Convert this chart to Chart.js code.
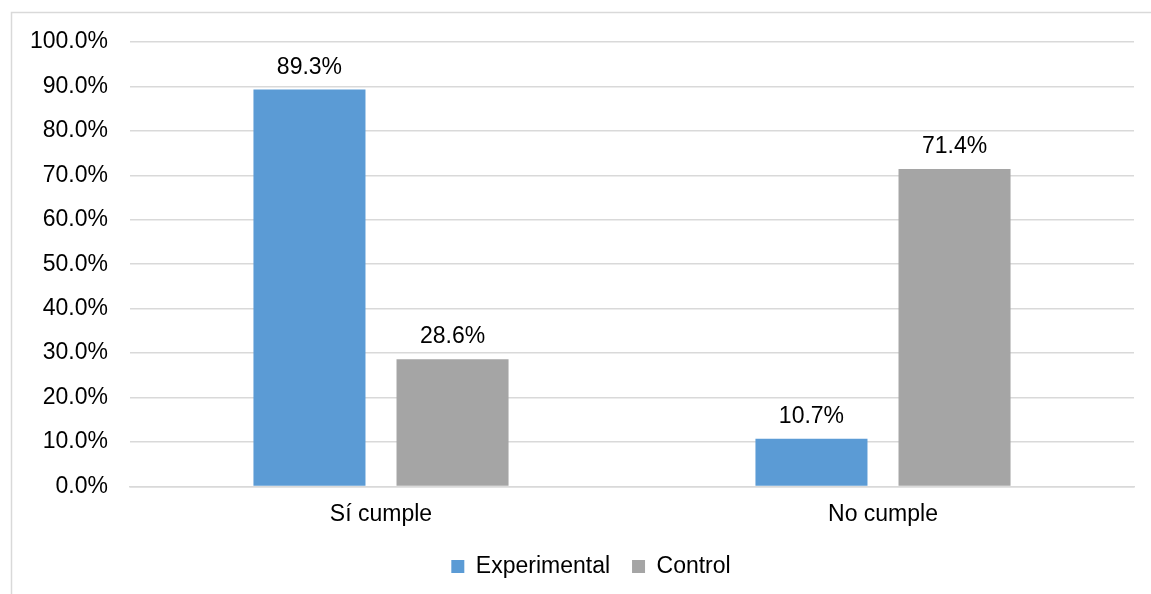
<!DOCTYPE html>
<html>
<head>
<meta charset="utf-8">
<script src="https://cdn.jsdelivr.net/npm/chart.js@4/dist/chart.umd.min.js"></script>
<style>
    html, body { margin: 0; padding: 0; background: #fff; overflow: hidden; }
    #wrap { position: relative; width: 1151px; height: 594px; }
</style>
</head>
<body>
<div id="wrap"><canvas id="chart"></canvas></div>
<script>
// Data
const categories = ['Sí cumple', 'No cumple'];
const experimentalValues = [89.3, 10.7];
const controlValues = [28.6, 71.4];
const seriesNames = ['Experimental', 'Control'];

// Styles
const fontFamily = "'Liberation Sans', Arial, sans-serif";
const fontSize = 23;
const gridColor = '#d9d9d9';
const colors = {
    experimental: '#5b9bd5',
    control: '#a5a5a5'
};

// Outer frame of the chart (only top and left edges are visible)
const framePlugin = {
    id: 'frame',
    beforeDraw(chart) {
        const ctx = chart.ctx;
        ctx.save();
        ctx.strokeStyle = gridColor;
        ctx.lineWidth = 1.5;
        ctx.beginPath();
        ctx.moveTo(11.5, chart.height + 5);
        ctx.lineTo(11.5, 12.5);
        ctx.lineTo(chart.width + 5, 12.5);
        ctx.stroke();
        ctx.restore();
    }
};

// The legend in the original is centred on the whole frame, a bit right of ours
const legendShift = {
    id: 'legendShift',
    afterLayout(chart) {
        const lg = chart.legend;
        if (!lg) return;
        const dx = 591 - (lg.left + lg.right) / 2;
        lg.left += dx;
        lg.right += dx;
    }
};

// Value labels above each bar
const valueLabels = {
    id: 'valueLabels',
    afterDatasetsDraw(chart) {
        const ctx = chart.ctx;
        ctx.save();
        ctx.font = `${fontSize}px ${fontFamily}`;
        ctx.fillStyle = '#000';
        ctx.textAlign = 'center';
        ctx.textBaseline = 'alphabetic';
        chart.data.datasets.forEach((ds, i) => {
            chart.getDatasetMeta(i).data.forEach((bar, j) => {
                ctx.fillText(ds.data[j].toFixed(1) + '%', bar.x, bar.y - 16);
            });
        });
        ctx.restore();
    }
};

const ctx = document.getElementById('chart').getContext('2d');
new Chart(ctx, {
    type: 'bar',
    data: {
        labels: categories,
        datasets: [
            {
                label: seriesNames[0],
                data: experimentalValues,
                backgroundColor: colors.experimental,
                categoryPercentage: 0.57,
                barPercentage: 0.783
            },
            {
                label: seriesNames[1],
                data: controlValues,
                backgroundColor: colors.control,
                categoryPercentage: 0.57,
                barPercentage: 0.783
            }
        ]
    },
    options: {
        responsive: true,
        maintainAspectRatio: false,
        animation: false,
        layout: {
            padding: { left: 12, right: 17, top: 42, bottom: 6 }
        },
        plugins: {
            tooltip: { enabled: false },
            legend: {
                position: 'bottom',
                labels: {
                    boxWidth: 13,
                    boxHeight: 13,
                    padding: 22,
                    color: '#000',
                    font: { family: fontFamily, size: fontSize }
                }
            }
        },
        scales: {
            x: {
                grid: { display: false },
                border: { display: true, color: gridColor, width: 1.5 },
                afterFit(scale) { scale.height -= 1; },
                ticks: {
                    color: '#000',
                    padding: 6,
                    font: { family: fontFamily, size: fontSize }
                }
            },
            y: {
                min: 0,
                max: 100,
                afterFit(scale) { scale.width = 118; },
                grid: { color: gridColor, lineWidth: 1.5, drawTicks: false },
                border: { display: false },
                ticks: {
                    stepSize: 10,
                    padding: 22,
                    color: '#000',
                    font: { family: fontFamily, size: fontSize },
                    callback: value => value.toFixed(1) + '%'
                }
            }
        }
    },
    plugins: [framePlugin, legendShift, valueLabels]
});
</script>
</body>
</html>
